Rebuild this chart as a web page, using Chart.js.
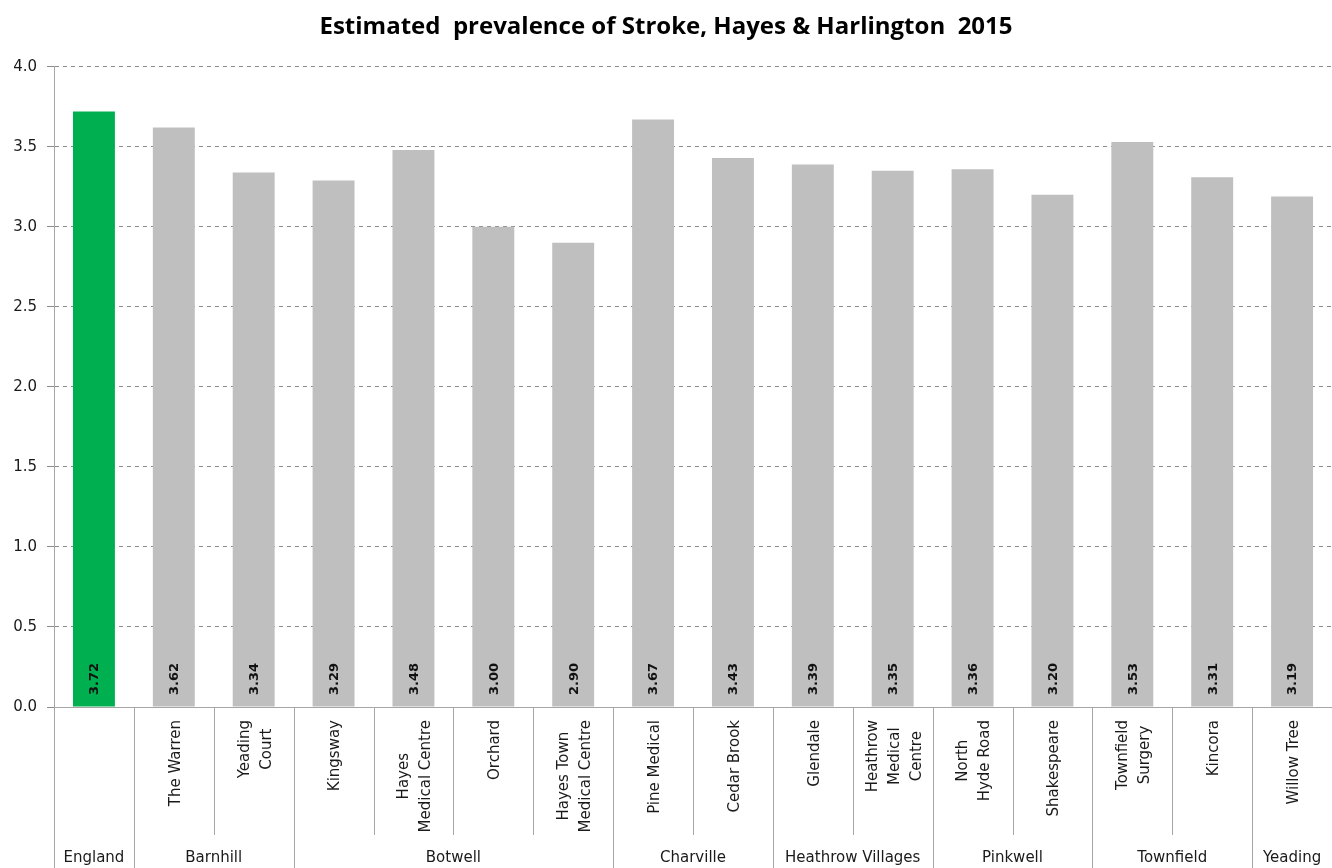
<!DOCTYPE html>
<html>
<head>
<meta charset="utf-8">
<title>Estimated prevalence of Stroke, Hayes &amp; Harlington 2015</title>
<script src="https://cdn.jsdelivr.net/npm/chart.js@4.4.1/dist/chart.umd.min.js"></script>
<style>
    html, body { margin: 0; padding: 0; background: #fff; }
    #wrap { width: 1332px; height: 868px; position: relative; }
</style>
</head>
<body>
<div id="wrap"><canvas id="strokeChart"></canvas></div>
<script>
// Data
const groups = ['England', 'Barnhill', 'Botwell', 'Charville', 'Heathrow Villages', 'Pinkwell', 'Townfield', 'Yeading'];
const groupSizes = [1, 2, 4, 2, 2, 2, 2, 1];
const practices = [
    [],
    ['The Warren'],
    ['Yeading', 'Court'],
    ['Kingsway'],
    ['Hayes', 'Medical Centre'],
    ['Orchard'],
    ['Hayes Town', 'Medical Centre'],
    ['Pine Medical'],
    ['Cedar Brook'],
    ['Glendale'],
    ['Heathrow', 'Medical', 'Centre'],
    ['North', 'Hyde Road'],
    ['Shakespeare'],
    ['Townfield', 'Surgery'],
    ['Kincora'],
    ['Willow Tree']
];
const prevalence = [3.72, 3.62, 3.34, 3.29, 3.48, 3.00, 2.90, 3.67, 3.43, 3.39, 3.35, 3.36, 3.20, 3.53, 3.31, 3.19];
const yTicks = [0, 0.5, 1.0, 1.5, 2.0, 2.5, 3.0, 3.5, 4.0];

const GREEN = '#00b050';
const GREY = '#bfbfbf';
const AXIS_COLOUR = '#a6a6a6';
const FONT = '"DejaVu Sans", Verdana, sans-serif';

// Draws the value labels, two-level category axis and its separator lines
const axisLabelsPlugin = {
    id: 'axisLabels',
    afterDraw(chart) {
        const ctx = chart.ctx;
        const xScale = chart.scales.x;
        const yScale = chart.scales.y;
        const n = practices.length;
        const catWidth = xScale.width / n;
        const baseY = yScale.getPixelForValue(0);
        const bottom = chart.height;

        ctx.save();

        // Values, rotated, sitting at the foot of each bar
        ctx.fillStyle = '#111';
        ctx.font = 'bold 13px ' + FONT;
        ctx.textAlign = 'left';
        ctx.textBaseline = 'middle';
        prevalence.forEach((v, i) => {
            const cx = xScale.getPixelForValue(i);
            ctx.save();
            ctx.translate(cx + 1, baseY - 12);
            ctx.rotate(-Math.PI / 2);
            ctx.fillText(v.toFixed(2), 0, 0);
            ctx.restore();
        });

        // Practice names, rotated, block top-aligned under the axis
        ctx.fillStyle = '#1a1a1a';
        ctx.font = '15px ' + FONT;
        ctx.textAlign = 'center';
        const lineH = 22;
        practices.forEach((lines, i) => {
            if (!lines.length) return;
            const cx = xScale.getPixelForValue(i);
            const maxW = Math.max(...lines.map(l => ctx.measureText(l).width));
            ctx.save();
            ctx.translate(cx + 2, baseY + 13);
            ctx.rotate(-Math.PI / 2);
            lines.forEach((l, j) => {
                ctx.fillText(l, -maxW / 2, (j - (lines.length - 1) / 2) * lineH);
            });
            ctx.restore();
        });

        // Separator lines: short between practices, full between groups
        const groupEnds = new Set();
        let acc = 0;
        groupSizes.forEach(s => { acc += s; groupEnds.add(acc); });
        ctx.strokeStyle = AXIS_COLOUR;
        ctx.lineWidth = 1;
        for (let i = 0; i <= n; i++) {
            const x = Math.round(xScale.left + i * catWidth) + 0.5;
            const full = i === 0 || groupEnds.has(i);
            ctx.beginPath();
            ctx.moveTo(x, baseY);
            ctx.lineTo(x, full ? bottom : baseY + 128);
            ctx.stroke();
        }

        // Group names along the bottom
        ctx.fillStyle = '#1a1a1a';
        ctx.font = '15px ' + FONT;
        ctx.textAlign = 'center';
        ctx.textBaseline = 'middle';
        let start = 0;
        groups.forEach((g, k) => {
            const end = start + groupSizes[k];
            const cx = xScale.left + (start + end) / 2 * catWidth;
            ctx.fillText(g, cx, bottom - 10);
            start = end;
        });

        ctx.restore();
    }
};

const ctx = document.getElementById('strokeChart').getContext('2d');
new Chart(ctx, {
    type: 'bar',
    data: {
        labels: practices.map(p => p.join(' ') || 'England'),
        datasets: [{
            label: 'Prevalence',
            data: prevalence,
            backgroundColor: c => (c.dataIndex === 0 ? GREEN : GREY),
            borderWidth: 0,
            barPercentage: 0.525,
            categoryPercentage: 1
        }]
    },
    options: {
        responsive: true,
        maintainAspectRatio: false,
        animation: false,
        layout: { padding: { left: 0, right: 0, top: 0, bottom: 0 } },
        plugins: {
            legend: { display: false },
            tooltip: { enabled: false },
            title: {
                display: true,
                text: 'Estimated  prevalence of Stroke, Hayes & Harlington  2015',
                color: '#000',
                font: { family: '"Open Sans", sans-serif', size: 24, weight: 'bold', lineHeight: 1.2 },
                padding: { top: 13, bottom: 25 }
            }
        },
        scales: {
            x: {
                grid: { display: false },
                border: { display: true, color: AXIS_COLOUR, width: 1 },
                ticks: { display: false },
                afterFit: scale => { scale.height = 161; }
            },
            y: {
                min: 0,
                max: 4,
                afterBuildTicks: scale => { scale.ticks = yTicks.map(v => ({ value: v })); },
                grid: { color: '#8c8c8c', tickLength: 7, lineWidth: 1 },
                border: { display: true, color: AXIS_COLOUR, width: 1, dash: [4, 4] },
                ticks: {
                    padding: 10,
                    color: '#1a1a1a',
                    font: { family: FONT, size: 15 },
                    callback: v => v.toFixed(1)
                },
                afterFit: scale => { scale.width = 54; }
            }
        }
    },
    plugins: [axisLabelsPlugin]
});
</script>
</body>
</html>
